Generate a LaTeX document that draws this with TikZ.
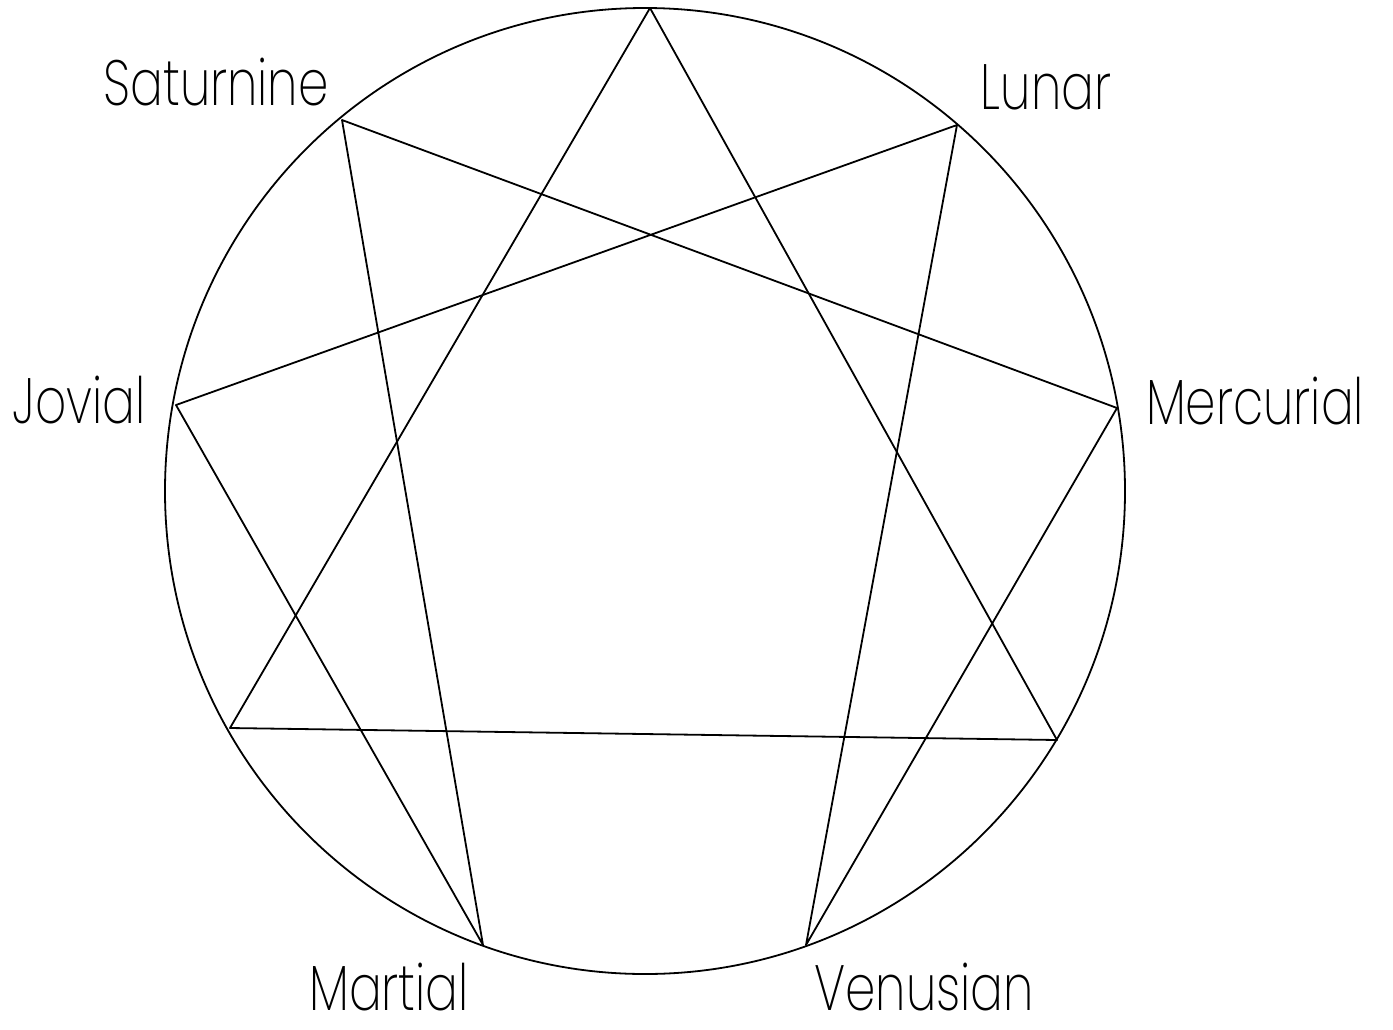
\documentclass[tikz,border=0pt]{standalone}
\usepackage{fontspec}
\setmainfont{Poppins}[UprightFont={* ExtraLight}]
\begin{document}
\begin{tikzpicture}[x=1pt,y=-1pt,
  edge/.style={line width=1.8pt,line join=round,line cap=round},
  lab/.style={anchor=base,font=\fontsize{64}{64}\selectfont,inner sep=0pt,xscale=0.76,transform shape}]
\useasboundingbox (0,0) rectangle (1393,1029);
\draw[edge] (645,491) ellipse [x radius=480, y radius=483];
\coordinate (p9) at (650,8);
\coordinate (p1) at (957,125);
\coordinate (p2) at (1117,408);
\coordinate (p3) at (1057,740);
\coordinate (p4) at (806,945);
\coordinate (p5) at (483,945);
\coordinate (p6) at (230,728);
\coordinate (p7) at (176,405);
\coordinate (p8) at (342,120);
\draw[edge] (p9) -- (p3) -- (p6) -- cycle;
\draw[edge] (p1) -- (p4) -- (p2) -- (p8) -- (p5) -- (p7) -- cycle;
\node[lab] (sat) at (216,105) {Saturnine};
\node[lab] (lun) at (1046,109) {Lunar};
\node[lab] (jov) at (79,423) {Jovial};
\node[lab] (mer) at (1255,424) {Mercurial};
\node[lab] (mar) at (389,1010) {Martial};
\node[lab] (ven) at (924,1010) {Venusian};
\end{tikzpicture}
\end{document}
